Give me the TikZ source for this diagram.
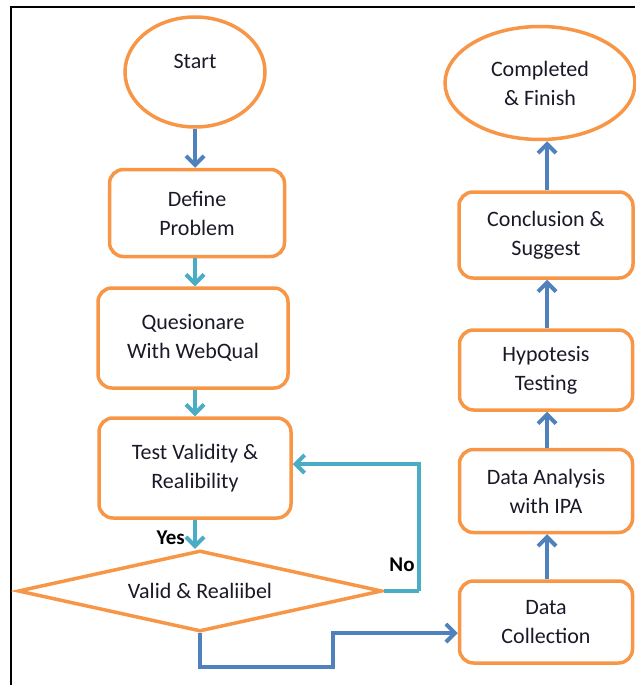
\documentclass[tikz,border=0pt]{standalone}
\usepackage{fontspec}
\setmainfont{Carlito}
\usetikzlibrary{shapes.geometric,arrows.meta}
\definecolor{orng}{RGB}{247,150,70}
\definecolor{dblue}{RGB}{79,129,189}
\definecolor{teal2}{RGB}{75,172,198}
\definecolor{txt}{RGB}{25,25,40}
\tikzset{
  box/.style={draw=orng, line width=3.5pt, rounded corners=14pt, align=center,
    text=txt, font=\fontsize{22}{29}\selectfont, inner sep=0pt},
  oval/.style={draw=orng, line width=3.5pt, ellipse, align=center, inner sep=0pt,
    text=txt, font=\fontsize{22}{29}\selectfont},
  decis/.style={draw=orng, line width=3.5pt, diamond, shape aspect=4.5, inner sep=0pt, align=center,
    text=txt, font=\fontsize{22}{29}\selectfont},
  barrow/.style={draw=dblue, line width=4pt, -{Straight Barb[length=9pt,width=18pt,line width=4pt]}},
  tarrow/.style={draw=teal2, line width=4pt, -{Straight Barb[length=9pt,width=18pt,line width=4pt]}},
  lbl/.style={font=\fontsize{21}{24}\selectfont\bfseries, text=black, inner sep=0pt}
}
\begin{document}
\begin{tikzpicture}[x=1pt,y=-1pt]
\useasboundingbox (0,0) rectangle (635,685);
\draw[line width=1.5pt] (11,685) -- (11,7) -- (635,7);

\node[oval, minimum width=140pt, minimum height=110pt, text height=14pt, text depth=20pt] (start) at (195,72) {Start};
\node[box, minimum width=175pt, minimum height=87pt] (def) at (197,213) {Define\\Problem};
\node[box, minimum width=190pt, minimum height=100pt] (ques) at (193,338) {Quesionare\\With WebQual};
\node[box, minimum width=192pt, minimum height=100pt] (test) at (195,468) {Test Validity \&\\Realibility};
\node[decis, minimum width=364pt, minimum height=81pt] (dia) at (200,591) {Valid \& Realiibel};

\node[box, minimum width=173pt, minimum height=82pt] (coll) at (546,622) {Data\\Collection};
\node[box, minimum width=173pt, minimum height=83pt] (anal) at (546,491) {Data Analysis\\with IPA};
\node[box, minimum width=173pt, minimum height=80pt] (hyp) at (546,370) {Hypotesis\\Testing};
\node[box, minimum width=174pt, minimum height=86pt] (conc) at (546,235) {Conclusion \&\\Suggest};
\node[oval, minimum width=190pt, minimum height=113pt] (fin) at (540,83) {Completed\\\& Finish};

\draw[barrow] (start.south) -- (start.south |- def.north);
\draw[tarrow] (def.south -| start.south) -- (start.south |- ques.north);
\draw[tarrow] (ques.south -| start.south) -- (start.south |- test.north);
\draw[tarrow] (test.south -| start.south) -- (start.south |- dia.north);
\node[lbl, anchor=east] (yes) at (185,538) {Yes};

\coordinate (n1) at (419,591);
\coordinate (n2) at (419,464);
\draw[teal2, line width=4pt] (dia.east) -- (n1);
\draw[tarrow] (n1) -- (n2) -- (n2 -| test.east);
\node[lbl] (no) at (402,565) {No};

\coordinate (b1) at (200,667);
\coordinate (b2) at (333,667);
\coordinate (b3) at (333,633);
\draw[barrow] (dia.south) -- (b1) -- (b2) -- (b3) -- (b3 -| coll.west);

\coordinate (ax) at (547,0);
\draw[barrow] (coll.north -| ax) -- (anal.south -| ax);
\draw[barrow] (anal.north -| ax) -- (hyp.south -| ax);
\draw[barrow] (hyp.north -| ax) -- (conc.south -| ax);
\draw[barrow] (conc.north -| ax) -- (fin.south -| ax);
\end{tikzpicture}
\end{document}
